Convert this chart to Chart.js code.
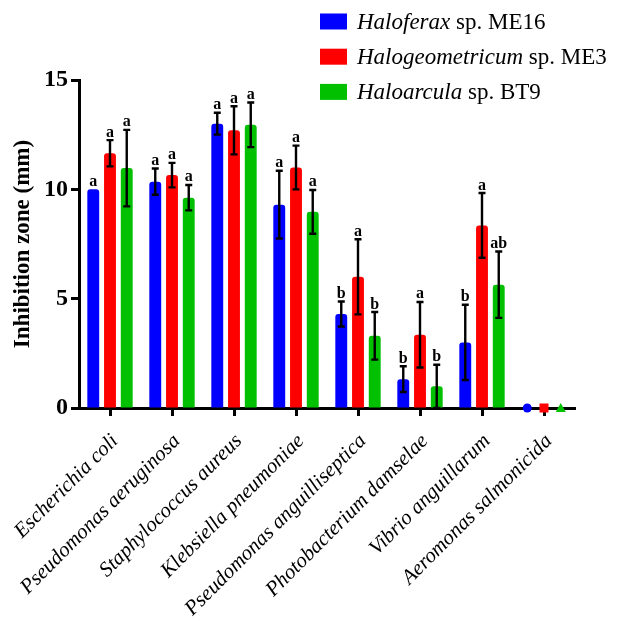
<!DOCTYPE html>
<html>
<head>
<meta charset="utf-8">
<script src="https://cdn.jsdelivr.net/npm/chart.js@4"></script>
<style>
  body { margin: 0; background: #fff; }
</style>
</head>
<body>
<canvas id="zoneChart" width="625" height="622"></canvas>
<script>
const categories = [
  'Escherichia coli', 'Pseudomonas aeruginosa', 'Staphylococcus aureus',
  'Klebsiella pneumoniae', 'Pseudomonas anguilliseptica', 'Photobacterium damselae',
  'Vibrio anguillarum', 'Aeromonas salmonicida'
];

const seriesGenus = ['Haloferax', 'Halogeometricum', 'Haloarcula'];
const seriesStrain = [' sp. ME16', ' sp. ME3', ' sp. BT9'];

const haloferax = [10.0, 10.35, 13.0, 9.3, 4.3, 1.32, 3.0, 0];
const haloferaxErr = [0, 0.6, 0.5, 1.55, 0.57, 0.59, 1.72, 0];
const haloferaxLetters = ['a', 'a', 'a', 'a', 'b', 'b', 'b', ''];

const halogeometricum = [11.65, 10.65, 12.7, 11.0, 6.0, 3.35, 8.35, 0];
const halogeometricumErr = [0.6, 0.56, 1.1, 1.0, 1.72, 1.5, 1.48, 0];
const halogeometricumLetters = ['a', 'a', 'a', 'a', 'a', 'a', 'a', ''];

const haloarcula = [10.97, 9.62, 12.95, 8.97, 3.3, 0.99, 5.64, 0];
const haloarculaErr = [1.75, 0.58, 1.02, 1.0, 1.09, 0.99, 1.52, 0];
const haloarculaLetters = ['a', 'a', 'a', 'a', 'b', 'b', 'ab', ''];

const yTicks = [0, 5, 10, 15];

const serif = "'Liberation Serif', 'Times New Roman', serif";

// error bars, significance letters and zero markers
const extrasPlugin = {
  id: 'extras',
  afterDatasetsDraw(chart) {
    const ctx = chart.ctx;
    const yScale = chart.scales.y;
    ctx.save();
    chart.data.datasets.forEach((ds, di) => {
      const meta = chart.getDatasetMeta(di);
      meta.data.forEach((bar, i) => {
        const v = ds.data[i];
        const e = ds.errors[i];
        const x = bar.x;
        if (v === 0) {
          ctx.fillStyle = ds.backgroundColor;
          const y = yScale.getPixelForValue(0);
          ctx.beginPath();
          if (ds.marker === 'circle') {
            ctx.arc(x, y, 4.5, 0, Math.PI * 2);
          } else if (ds.marker === 'rect') {
            ctx.rect(x - 4.5, y - 4.5, 9, 9);
          } else {
            ctx.moveTo(x, y - 5);
            ctx.lineTo(x + 5, y + 4);
            ctx.lineTo(x - 5, y + 4);
            ctx.closePath();
          }
          ctx.fill();
          return;
        }
        const top = yScale.getPixelForValue(v + e);
        if (e > 0) {
          const bot = yScale.getPixelForValue(v - e);
          ctx.strokeStyle = '#000';
          ctx.lineWidth = 2.4;
          ctx.beginPath();
          ctx.moveTo(x, top);
          ctx.lineTo(x, bot);
          ctx.moveTo(x - 3.5, top);
          ctx.lineTo(x + 3.5, top);
          ctx.moveTo(x - 3.5, bot);
          ctx.lineTo(x + 3.5, bot);
          ctx.stroke();
        }
        if (ds.letters[i]) {
          ctx.fillStyle = '#000';
          ctx.font = 'bold 16px ' + serif;
          ctx.textAlign = 'center';
          ctx.textBaseline = 'alphabetic';
          ctx.fillText(ds.letters[i], x, top - 3.5);
        }
      });
    });
    ctx.restore();
  }
};

// legend with italic genus names
const legendPlugin = {
  id: 'mixedLegend',
  afterDraw(chart) {
    const ctx = chart.ctx;
    ctx.save();
    chart.data.datasets.forEach((ds, i) => {
      const cy = 21.5 + i * 35.2;
      ctx.fillStyle = ds.backgroundColor;
      ctx.fillRect(320, cy - 8, 27, 16);
      ctx.fillStyle = '#000';
      ctx.textBaseline = 'middle';
      ctx.textAlign = 'left';
      ctx.font = 'italic 23px ' + serif;
      ctx.fillText(seriesGenus[i], 357, cy + 1);
      const w = ctx.measureText(seriesGenus[i]).width;
      ctx.font = '23px ' + serif;
      ctx.fillText(seriesStrain[i], 357 + w, cy + 1);
    });
    ctx.restore();
  }
};

const makeSet = (i, data, errors, letters, color, marker) => ({
  label: seriesGenus[i] + seriesStrain[i],
  data: data,
  errors: errors,
  letters: letters,
  marker: marker,
  backgroundColor: color,
  borderWidth: 0,
  borderRadius: { topLeft: 3, topRight: 3, bottomLeft: 0, bottomRight: 0 },
  borderSkipped: 'bottom',
  categoryPercentage: 0.81,
  barPercentage: 0.71
});

const ctx = document.getElementById('zoneChart').getContext('2d');
new Chart(ctx, {
  type: 'bar',
  data: {
    labels: categories,
    datasets: [
      makeSet(0, haloferax, haloferaxErr, haloferaxLetters, '#0000ff', 'circle'),
      makeSet(1, halogeometricum, halogeometricumErr, halogeometricumLetters, '#ff0000', 'rect'),
      makeSet(2, haloarcula, haloarculaErr, haloarculaLetters, '#00c000', 'triangle')
    ]
  },
  options: {
    responsive: false,
    animation: false,
    layout: { padding: { top: 80, right: 50, left: 0, bottom: 0 } },
    plugins: {
      legend: { display: false },
      tooltip: { enabled: false }
    },
    scales: {
      x: {
        grid: {
          offset: false,
          drawOnChartArea: false,
          drawTicks: true,
          tickLength: 8,
          tickWidth: 3,
          tickColor: '#000'
        },
        border: { display: true, color: '#000', width: 3 },
        ticks: {
          color: '#000',
          minRotation: 45,
          maxRotation: 45,
          autoSkip: false,
          padding: 13,
          labelOffset: 5,
          font: { family: serif, style: 'italic', size: 21 }
        },
        afterFit(scale) {
          scale.height = 214;
          scale.paddingLeft = 0;
          scale.paddingRight = 0;
        }
      },
      y: {
        min: 0,
        max: 15,
        afterBuildTicks(scale) {
          scale.ticks = yTicks.map(v => ({ value: v }));
        },
        grid: {
          drawOnChartArea: false,
          drawTicks: true,
          tickLength: 8,
          tickWidth: 3,
          tickColor: '#000'
        },
        border: { display: true, color: '#000', width: 3 },
        ticks: {
          color: '#000',
          padding: 3,
          font: { family: serif, weight: 'bold', size: 24 }
        },
        title: {
          display: true,
          text: 'Inhibition zone (mm)',
          color: '#000',
          padding: { top: 12, bottom: 0 },
          font: { family: serif, weight: 'bold', size: 23, lineHeight: 1 }
        },
        afterFit(scale) {
          scale.width = 79;
          scale.paddingTop = 0;
          scale.paddingBottom = 0;
        }
      }
    }
  },
  plugins: [extrasPlugin, legendPlugin]
});
</script>
</body>
</html>
